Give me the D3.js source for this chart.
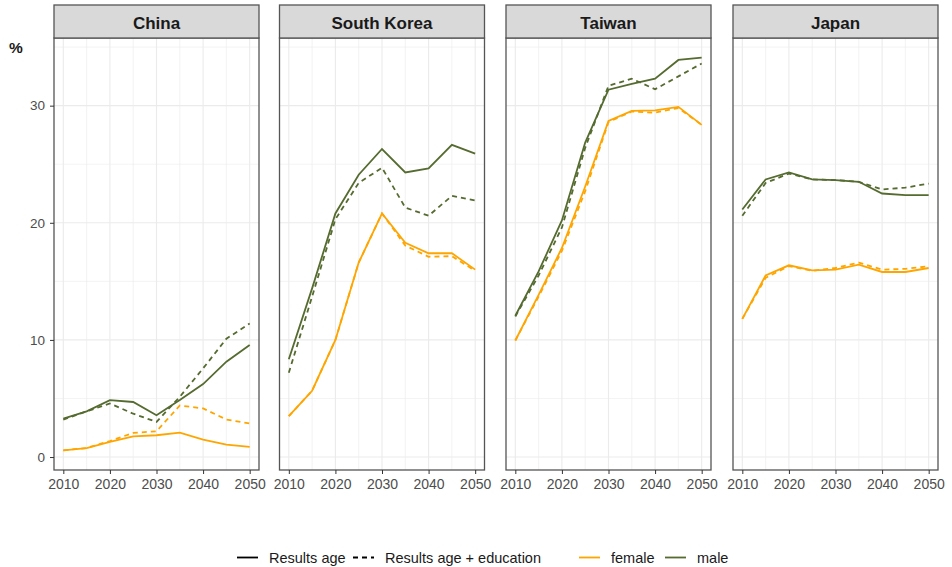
<!DOCTYPE html>
<html>
<head>
<meta charset="utf-8">
<script src="https://cdn.jsdelivr.net/npm/d3@7"></script>
<style>
  body { margin: 0; background: #fff; }
  svg { display: block; font-family: "Liberation Sans", Arial, sans-serif; }
</style>
</head>
<body>
<div id="chart"></div>
<script>
// Data
const years = [2010, 2015, 2020, 2025, 2030, 2035, 2040, 2045, 2050];
const countries = ["China", "South Korea", "Taiwan", "Japan"];
const yTicks = [0, 10, 20, 30];

const chinaFemaleAge = [0.57, 0.77, 1.29, 1.77, 1.86, 2.09, 1.49, 1.06, 0.86];
const chinaFemaleEdu = [0.57, 0.77, 1.37, 2.06, 2.2, 4.4, 4.15, 3.2, 2.86];
const chinaMaleAge   = [3.28, 3.9, 4.86, 4.7, 3.57, 4.86, 6.23, 8.14, 9.57];
const chinaMaleEdu   = [3.2, 3.9, 4.57, 3.7, 3.0, 5.14, 7.57, 10.1, 11.4];

const koreaFemaleAge = [3.49, 5.66, 10.0, 16.6, 20.8, 18.3, 17.4, 17.4, 16.0];
const koreaFemaleEdu = [3.49, 5.66, 10.0, 16.6, 20.8, 18.05, 17.1, 17.15, 15.9];
const koreaMaleAge   = [8.35, 14.4, 20.8, 24.1, 26.3, 24.3, 24.65, 26.65, 25.9];
const koreaMaleEdu   = [7.2, 13.7, 20.3, 23.4, 24.7, 21.3, 20.6, 22.3, 21.9];

const taiwanFemaleAge = [9.95, 13.85, 17.85, 23.1, 28.7, 29.56, 29.6, 29.9, 28.36];
const taiwanFemaleEdu = [9.95, 13.7, 17.6, 22.7, 28.6, 29.5, 29.4, 29.8, 28.36];
const taiwanMaleAge   = [12.06, 15.85, 20.2, 26.85, 31.36, 31.85, 32.3, 33.9, 34.1];
const taiwanMaleEdu   = [12.0, 15.5, 19.6, 26.4, 31.7, 32.3, 31.4, 32.5, 33.6];

const japanFemaleAge = [11.8, 15.5, 16.37, 15.94, 16.0, 16.43, 15.8, 15.8, 16.14];
const japanFemaleEdu = [11.8, 15.3, 16.3, 15.9, 16.14, 16.6, 16.0, 16.07, 16.28];
const japanMaleAge   = [21.14, 23.7, 24.3, 23.7, 23.65, 23.5, 22.5, 22.37, 22.37];
const japanMaleEdu   = [20.6, 23.4, 24.2, 23.7, 23.65, 23.5, 22.85, 23.0, 23.35];

const seriesByCountry = {
  "China":       [["female", "age", chinaFemaleAge], ["female", "edu", chinaFemaleEdu], ["male", "age", chinaMaleAge], ["male", "edu", chinaMaleEdu]],
  "South Korea": [["female", "age", koreaFemaleAge], ["female", "edu", koreaFemaleEdu], ["male", "age", koreaMaleAge], ["male", "edu", koreaMaleEdu]],
  "Taiwan":      [["female", "age", taiwanFemaleAge], ["female", "edu", taiwanFemaleEdu], ["male", "age", taiwanMaleAge], ["male", "edu", taiwanMaleEdu]],
  "Japan":       [["female", "age", japanFemaleAge], ["female", "edu", japanFemaleEdu], ["male", "age", japanMaleAge], ["male", "edu", japanMaleEdu]]
};

const sexColor = { female: "#FFA500", male: "#556B2F" };
const dashFor = { age: null, edu: "5,4" };

const width = 952, height = 567;
const panelLeft = [54, 279.5, 506, 733];
const panelWidth = 205;
const stripTop = 5, stripBottom = 38;
const plotBottom = 470;

const svg = d3.select("#chart").append("svg")
    .attr("width", width)
    .attr("height", height)
    .attr("viewBox", [0, 0, width, height]);

// ggplot style 5% expansion on both axes
const allValues = Object.values(seriesByCountry).flatMap(s => s.flatMap(d => d[2]));
const yMin = d3.min(allValues), yMax = d3.max(allValues);
const yPad = (yMax - yMin) * 0.05;
const y = d3.scaleLinear()
    .domain([yMin - yPad, yMax + yPad])
    .range([plotBottom, stripBottom]);

const xPad = (years[years.length - 1] - years[0]) * 0.05;

countries.forEach((country, i) => {
    const x0 = panelLeft[i];
    const x = d3.scaleLinear()
        .domain([years[0] - xPad, years[years.length - 1] + xPad])
        .range([x0, x0 + panelWidth]);

    const g = svg.append("g");

    // grid lines, minor then major
    const yMinor = [5, 15, 25, 35];
    const xMinor = d3.range(2015, 2050, 10);
    g.append("g").selectAll("line").data(yMinor).join("line")
        .attr("x1", x0).attr("x2", x0 + panelWidth)
        .attr("y1", d => y(d)).attr("y2", d => y(d))
        .attr("stroke", "#EBEBEB").attr("stroke-width", 0.6);
    g.append("g").selectAll("line").data(xMinor).join("line")
        .attr("x1", d => x(d)).attr("x2", d => x(d))
        .attr("y1", stripBottom).attr("y2", plotBottom)
        .attr("stroke", "#EBEBEB").attr("stroke-width", 0.6);
    g.append("g").selectAll("line").data(yTicks).join("line")
        .attr("x1", x0).attr("x2", x0 + panelWidth)
        .attr("y1", d => y(d)).attr("y2", d => y(d))
        .attr("stroke", "#EBEBEB").attr("stroke-width", 1.1);
    g.append("g").selectAll("line").data(d3.range(2010, 2051, 10)).join("line")
        .attr("x1", d => x(d)).attr("x2", d => x(d))
        .attr("y1", stripBottom).attr("y2", plotBottom)
        .attr("stroke", "#EBEBEB").attr("stroke-width", 1.1);

    // the lines
    const line = d3.line()
        .x((d, j) => x(years[j]))
        .y(d => y(d));

    g.append("g").selectAll("path")
      .data(seriesByCountry[country])
      .join("path")
        .attr("d", d => line(d[2]))
        .attr("fill", "none")
        .attr("stroke", d => sexColor[d[0]])
        .attr("stroke-width", 1.8)
        .attr("stroke-dasharray", d => dashFor[d[1]]);

    // panel border
    g.append("rect")
        .attr("x", x0).attr("y", stripBottom)
        .attr("width", panelWidth).attr("height", plotBottom - stripBottom)
        .attr("fill", "none").attr("stroke", "#555").attr("stroke-width", 1.3);

    // strip
    g.append("rect")
        .attr("x", x0).attr("y", stripTop)
        .attr("width", panelWidth).attr("height", stripBottom - stripTop)
        .attr("fill", "#D9D9D9").attr("stroke", "#555").attr("stroke-width", 1.3);
    g.append("text")
        .attr("x", x0 + panelWidth / 2).attr("y", (stripTop + stripBottom) / 2 + 1)
        .attr("text-anchor", "middle").attr("dy", "0.36em")
        .attr("font-size", 17).attr("font-weight", "bold").attr("fill", "#1A1A1A")
        .text(country);

    // x axis
    g.append("g")
        .attr("transform", `translate(0,${plotBottom})`)
        .call(d3.axisBottom(x).tickValues(d3.range(2010, 2051, 10)).tickFormat(d3.format("d")).tickSize(4).tickPadding(5))
        .call(a => a.select(".domain").remove())
        .call(a => a.selectAll(".tick line").attr("stroke", "#333"))
        .call(a => a.selectAll(".tick text").attr("fill", "#4D4D4D").attr("font-size", 14).attr("font-family", null));

    if (i === 0) {
        g.append("g")
            .attr("transform", `translate(${x0},0)`)
            .call(d3.axisLeft(y).tickValues(yTicks).tickSize(4).tickPadding(5))
            .call(a => a.select(".domain").remove())
            .call(a => a.selectAll(".tick line").attr("stroke", "#333"))
            .call(a => a.selectAll(".tick text").attr("fill", "#4D4D4D").attr("font-size", 13.5).attr("font-family", null));
    }
});

// y title
svg.append("text")
    .attr("x", 9).attr("y", 52.5)
    .attr("font-size", 15.5).attr("font-weight", "bold").attr("fill", "#1A1A1A")
    .text("%");

// legend
const legendY = 557.5;
const legendItems = [
    { x: 237, label: "Results age", color: "#000", dash: null },
    { x: 353, label: "Results age + education", color: "#000", dash: "5,4" },
    { x: 579, label: "female", color: sexColor.female, dash: null },
    { x: 665, label: "male", color: sexColor.male, dash: null }
];
const legend = svg.append("g")
  .selectAll("g")
  .data(legendItems)
  .join("g")
    .attr("transform", d => `translate(${d.x},${legendY})`);
legend.append("line")
    .attr("x1", 0).attr("x2", 21)
    .attr("stroke", d => d.color)
    .attr("stroke-width", 1.8)
    .attr("stroke-dasharray", d => d.dash);
legend.append("text")
    .attr("x", 32).attr("dy", "0.35em")
    .attr("font-size", 14.5).attr("fill", "#1A1A1A")
    .text(d => d.label);
</script>
</body>
</html>
